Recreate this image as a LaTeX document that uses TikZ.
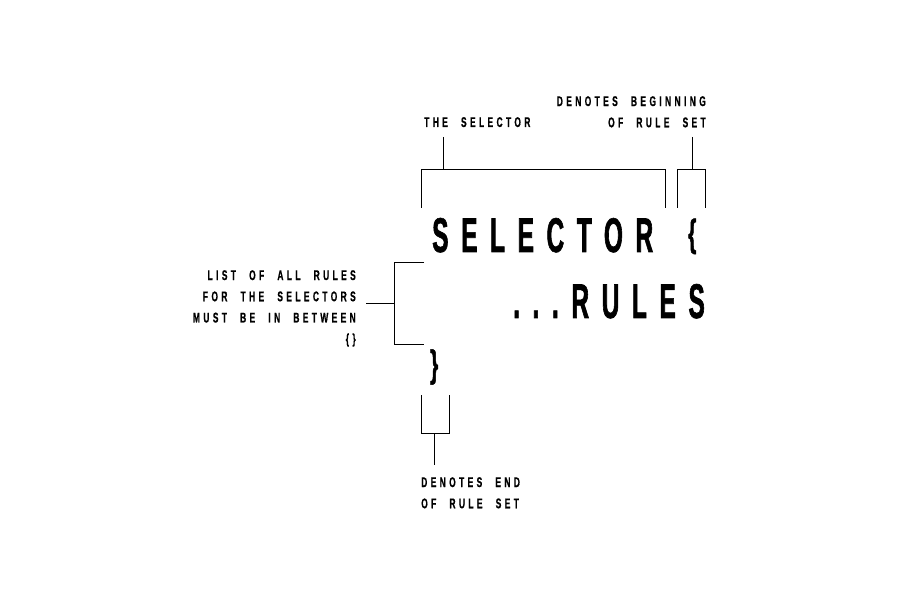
\documentclass[tikz,border=0pt]{standalone}
\usepackage{fontspec}
\newfontfamily\bigfont{Liberation Sans}[FakeStretch=0.5,FakeBold=1.2,LetterSpace=26,WordSpace=1.8]
\newfontfamily\smallfont{Liberation Sans}[FakeStretch=0.6,FakeBold=0.6,LetterSpace=24,WordSpace=2.3]
\newcommand{\flatbrace}[1]{\raisebox{0.12em}{\scalebox{0.85}[0.78]{#1}}}

\tikzstyle{code}=[inner sep=0pt,font=\bigfont\bfseries\fontsize{41.6}{50}\selectfont]
\tikzstyle{note}=[inner sep=0pt,font=\smallfont\bfseries\fontsize{12}{18.1}\selectfont]
\tikzstyle{bracket} = [draw,line width=0.8pt,-]

\begin{document}
\begin{tikzpicture}[x=0.03cm, y=-0.03cm]
		\useasboundingbox [fill=white] (0,0) rectangle (900,600);

		\node [code, anchor=base west]  (selector) at (432,252) {SELECTOR \flatbrace{\{}};
		\node [code, anchor=base east]  (rules)    at (705,318) {...RULES};
		\node [code, anchor=west]       (close)    at (430,367) {\flatbrace{\}}};

		\node [note, anchor=base west]  (thesel)   at (424,127) {THE SELECTOR};
		\node [note, anchor=north east, align=right] (begin) at (706,96)  {DENOTES BEGINNING\\OF RULE SET};
		\node [note, anchor=north east, align=right] (list)  at (356,270) {LIST OF ALL RULES\\FOR THE SELECTORS\\MUST BE IN BETWEEN\\\{\}};
		\node [note, anchor=north west, align=left]  (end)   at (421,477) {DENOTES END\\OF RULE SET};

		\coordinate (selL)   at (421,208);
		\coordinate (selLt)  at (421,169);
		\coordinate (selRt)  at (665,169);
		\coordinate (selR)   at (665,208);
		\coordinate (selTop) at (443,137);
		\coordinate (selMid) at (443,169);

		\coordinate (opnL)   at (677,208);
		\coordinate (opnLt)  at (677,169);
		\coordinate (opnRt)  at (705,169);
		\coordinate (opnR)   at (705,208);
		\coordinate (opnTop) at (692,137);
		\coordinate (opnMid) at (692,169);

		\coordinate (lstT)   at (424,262);
		\coordinate (lstTl)  at (394,262);
		\coordinate (lstBl)  at (394,344);
		\coordinate (lstB)   at (424,344);
		\coordinate (lstEnd) at (366,303);
		\coordinate (lstMid) at (394,303);

		\coordinate (endL)   at (421,395);
		\coordinate (endLb)  at (421,433);
		\coordinate (endRb)  at (449,433);
		\coordinate (endR)   at (449,395);
		\coordinate (endMid) at (434,433);
		\coordinate (endBot) at (434,465);

		\draw [bracket] (selL) -- (selLt) -- (selRt) -- (selR);
		\draw [bracket] (selTop) -- (selMid);
		\draw [bracket] (opnL) -- (opnLt) -- (opnRt) -- (opnR);
		\draw [bracket] (opnTop) -- (opnMid);
		\draw [bracket] (lstT) -- (lstTl) -- (lstBl) -- (lstB);
		\draw [bracket] (lstEnd) -- (lstMid);
		\draw [bracket] (endL) -- (endLb) -- (endRb) -- (endR);
		\draw [bracket] (endMid) -- (endBot);
	\end{tikzpicture}
\end{document}
